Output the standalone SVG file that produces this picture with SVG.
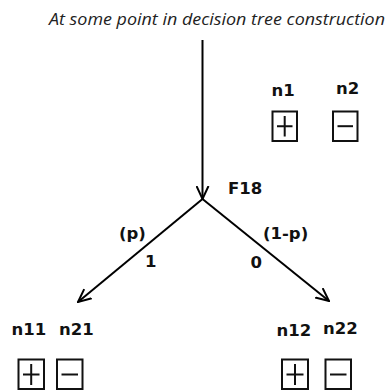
<svg xmlns="http://www.w3.org/2000/svg" width="387" height="390" viewBox="0 0 387 390">
<defs>
<style>
.t{font-family:"Open Sans","DejaVu Sans",sans-serif;font-style:italic;font-size:16.5px;fill:#222}
.l{font-family:"DejaVu Sans","Liberation Sans",sans-serif;font-weight:bold;font-size:16.5px;fill:#111}
.e{stroke:#000;stroke-width:2;fill:none}
.b{stroke:#111;stroke-width:2;fill:#fff}
.s{stroke:#111;stroke-width:2;fill:none}
</style>
<marker id="ah" viewBox="0 0 14 14" refX="13" refY="7" markerWidth="14" markerHeight="14" markerUnits="userSpaceOnUse" orient="auto">
<path d="M0,1 L13,7 L0,13" fill="none" stroke="#000" stroke-width="2"/>
</marker>
</defs>
<rect width="387" height="390" fill="#fff"/>
<text class="t" x="49" y="25" textLength="336" lengthAdjust="spacingAndGlyphs">At some point in decision tree construction</text>
<g id="connectors">
<line class="e" x1="202.5" y1="40" x2="202.5" y2="199" marker-end="url(#ah)"/>
<line class="e" x1="202.5" y1="199" x2="78" y2="302" marker-end="url(#ah)"/>
<line class="e" x1="202.5" y1="199" x2="329" y2="301" marker-end="url(#ah)"/>
</g>
<g id="F18"><text class="l" x="228" y="194">F18</text></g>
<g id="edge-labels">
<text class="l" x="119" y="239">(p)</text>
<text class="l" x="145" y="267">1</text>
<text class="l" x="250.5" y="268">0</text>
<text class="l" x="263" y="239">(1-p)</text>
</g>
<g id="n1">
<text class="l" x="271.5" y="96">n1</text>
<rect class="b" x="272.5" y="111.5" width="24.5" height="29.5"/>
<path class="s" d="M277,126.2 H292.5 M284.7,116 V136.5"/>
</g>
<g id="n2">
<text class="l" x="336" y="94">n2</text>
<rect class="b" x="333" y="111.5" width="24.5" height="29.5"/>
<path class="s" d="M337.5,126.2 H353"/>
</g>
<g id="n11">
<text class="l" x="11.5" y="334.5">n11</text>
<rect class="b" x="18.5" y="359.5" width="25.5" height="29.5"/>
<path class="s" d="M23,374.5 H39.5 M31.2,364 V385"/>
</g>
<g id="n21">
<text class="l" x="59" y="334.5">n21</text>
<rect class="b" x="57" y="359.5" width="25.5" height="29.5"/>
<path class="s" d="M61.5,374.5 H78"/>
</g>
<g id="n12">
<text class="l" x="276.5" y="335.5">n12</text>
<rect class="b" x="282" y="359.5" width="26" height="29.5"/>
<path class="s" d="M286.5,374.5 H303.5 M295,364 V385"/>
</g>
<g id="n22">
<text class="l" x="323" y="333.5">n22</text>
<rect class="b" x="325.5" y="359.5" width="25.5" height="29.5"/>
<path class="s" d="M330,374.5 H346.5"/>
</g>
</svg>
